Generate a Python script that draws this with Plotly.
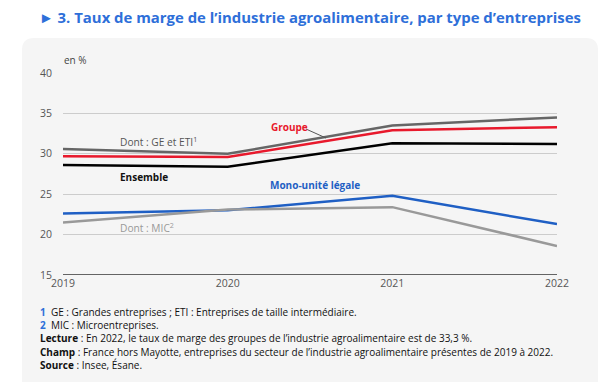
import plotly.graph_objects as go

years = [2019, 2020, 2021, 2022]
ge_eti = [30.6, 30.0, 33.5, 34.5]
groupe = [29.7, 29.6, 32.9, 33.3]
ensemble = [28.6, 28.4, 31.3, 31.2]
mono = [22.6, 23.0, 24.8, 21.3]
mic = [21.5, 23.1, 23.4, 18.6]
y_ticks = [15, 20, 25, 30, 35, 40]

W, H = 610, 382
L, R, T, B = 63, 557, 73, 275

def px(x):
    return (x - L) / (R - L)

def py(y):
    return (B - y) / (B - T)

fig = go.Figure()
series = [
    ("Dont : GE et ETI", ge_eti, "#666666"),
    ("Groupe", groupe, "#e8192c"),
    ("Ensemble", ensemble, "#000000"),
    ("Mono-unité légale", mono, "#1f5fc4"),
    ("Dont : MIC", mic, "#999999"),
]
for name, vals, col in series:
    fig.add_trace(go.Scatter(x=years, y=vals, mode="lines", name=name,
                             line=dict(color=col, width=2.5), hoverinfo="skip"))

# panel background
x0, x1, y0, y1 = px(22), px(598), py(38), py(400)
rx, ry = 12 / (R - L), 12 / (B - T)
path = (f"M {x0+rx} {y0} L {x1-rx} {y0} Q {x1} {y0} {x1} {y0-ry} "
        f"L {x1} {y1} L {x0} {y1} L {x0} {y0-ry} Q {x0} {y0} {x0+rx} {y0} Z")
fig.add_shape(type="path", path=path, xref="paper", yref="paper",
              fillcolor="#f5f5f5", line=dict(width=0), layer="below")
# leader line for Groupe
fig.add_shape(type="line", xref="paper", yref="paper",
              x0=px(306), y0=py(129), x1=px(326), y1=py(138),
              line=dict(color="#555555", width=1))

font = "Open Sans"
anns = [
    ("<b>► 3. Taux de marge de l’industrie agroalimentaire, par type d’entreprises</b>",
     37, 17, "#2e6fd9", 14.9),
    ("en %", 62, 60, "#444444", 10),
    ("Dont : GE et ETI<sup>1</sup>", 118, 141, "#555555", 10.2),
    ("<b>Groupe</b>", 269, 127, "#e8192c", 10),
    ("<b>Ensemble</b>", 118, 177, "#111111", 10),
    ("<b>Mono-unité légale</b>", 268, 185, "#1f5fc4", 10),
    ("Dont : MIC<sup>2</sup>", 118, 227, "#999999", 10.2),
    ("<span style='color:#2e6fd9'><b>1</b></span>  GE : Grandes entreprises ; ETI : Entreprises de taille intermédiaire.",
     38, 312, "#111111", 10),
    ("<span style='color:#2e6fd9'><b>2</b></span>  MIC : Microentreprises.",
     38, 325, "#111111", 10),
    ("<b>Lecture</b> : En 2022, le taux de marge des groupes de l’industrie agroalimentaire est de 33,3 %.",
     38, 338, "#111111", 10),
    ("<b>Champ</b> : France hors Mayotte, entreprises du secteur de l’industrie agroalimentaire présentes de 2019 à 2022.",
     38, 352, "#111111", 10),
    ("<b>Source</b> : Insee, Ésane.",
     38, 365, "#111111", 10),
]
for text, x, y, col, size in anns:
    fig.add_annotation(text=text, x=px(x), y=py(y), xref="paper", yref="paper",
                       xanchor="left", yanchor="middle", showarrow=False,
                       font=dict(family=font, size=size, color=col))

fig.update_layout(
    width=W, height=H,
    margin=dict(l=L, r=W - R, t=T, b=H - B, pad=0),
    paper_bgcolor="white", plot_bgcolor="rgba(0,0,0,0)",
    showlegend=False,
    font=dict(family=font, color="#555555", size=10.5),
    xaxis=dict(range=[2019, 2022], tickvals=years, ticktext=[str(y) for y in years],
               showgrid=False, zeroline=False, showline=False, ticks="",
               tickfont=dict(size=10.5, color="#555555"), fixedrange=True),
    yaxis=dict(range=[15, 40], tickvals=y_ticks, showgrid=True, gridcolor="#cccccc",
               gridwidth=1, zeroline=False, showline=False, ticks="outside",
               ticklen=8, tickcolor="rgba(0,0,0,0)",
               tickfont=dict(size=10.5, color="#555555"), fixedrange=True),
)
# baseline at 15
fig.add_shape(type="line", xref="paper", yref="y", x0=0, x1=1, y0=15, y1=15,
              line=dict(color="#333333", width=1.5))

fig.write_html("out.html", config={"displayModeBar": False},
               post_script="document.body.style.margin='0';document.body.style.overflow='hidden';")
